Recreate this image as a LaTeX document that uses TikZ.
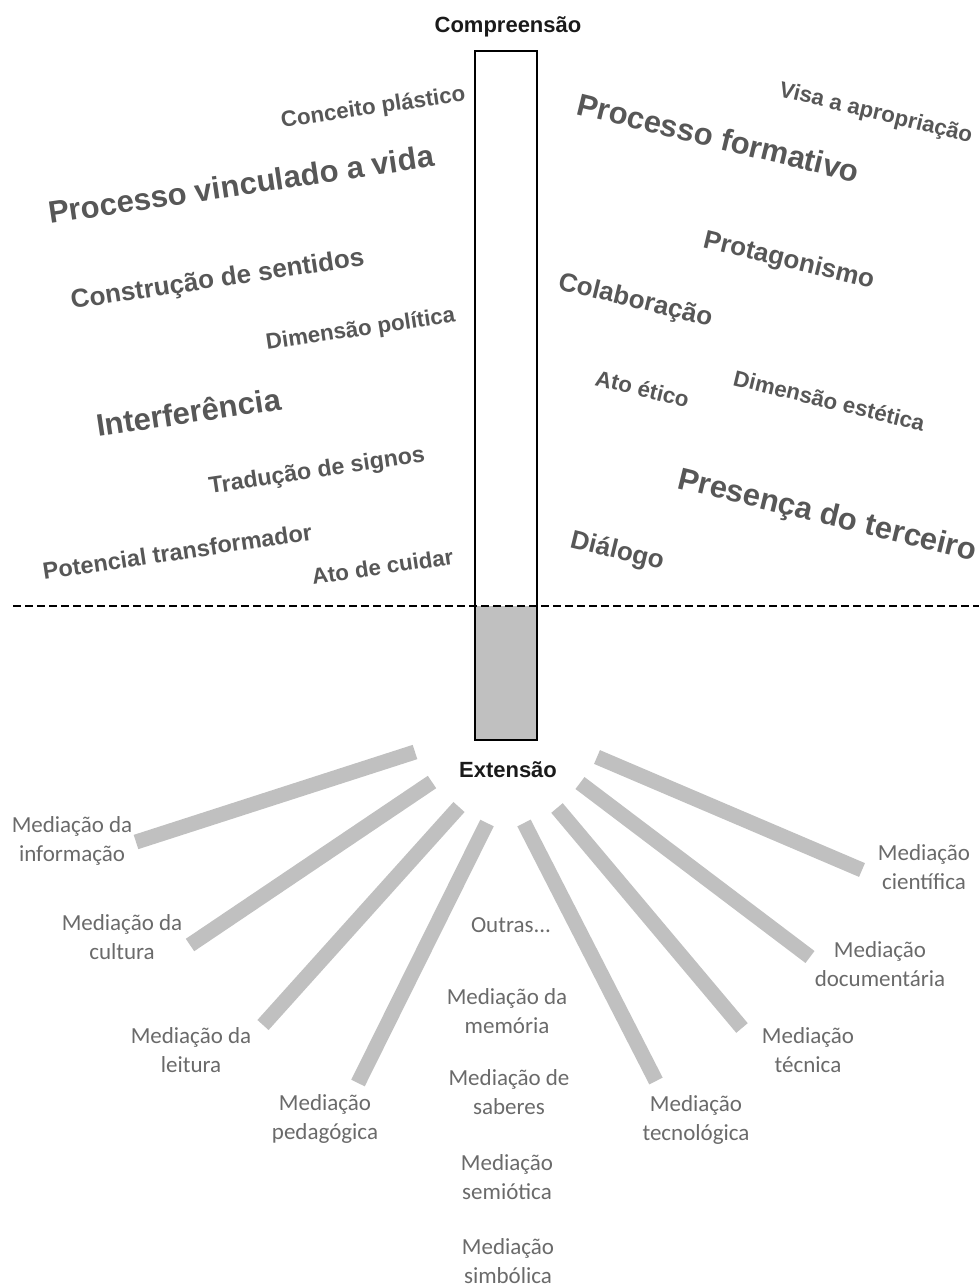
\documentclass[tikz,border=0pt]{standalone}
\usepackage{fontspec}
\setmainfont{Liberation Sans}
\newfontfamily\labelfont{Carlito}
\definecolor{wordgray}{HTML}{575757}
\definecolor{labelgray}{HTML}{6A6A6A}
\definecolor{bargray}{HTML}{C0C0C0}
\definecolor{titleink}{HTML}{1A1A1A}
\begin{document}
\begin{tikzpicture}[x=1pt,y=-1pt,
  word/.style={text=wordgray, inner sep=0pt, anchor=base west},
  bigw/.style={word, font=\bfseries\fontsize{31}{36}\selectfont},
  midw/.style={word, font=\bfseries\fontsize{26}{30}\selectfont},
  smallw/.style={word, font=\bfseries\fontsize{22.3}{26}\selectfont},
  leftw/.style={rotate=8.5},
  rightw/.style={rotate=-13.7},
  title/.style={text=titleink, inner sep=0pt, font=\bfseries\fontsize{22}{26}\selectfont},
  medlabel/.style={text=labelgray, inner sep=0pt, align=center,
    font=\labelfont\fontsize{23}{28.5}\selectfont},
  bar/.style={draw=bargray, line width=15pt, line cap=butt}]
\useasboundingbox (0,0) rectangle (979,1286);

% column with its lower, shaded part
\fill[bargray] (475,606) rectangle (537,740);
\draw[line width=1.5pt, black] (475,51) rectangle (537,740);
\draw[line width=1.3pt, dash pattern=on 8pt off 4pt] (13,606) -- (979,606);

\node[title] (comp) at (508,27) {Compreensão};
\node[title] (ext) at (508,770) {Extensão};

% words on the left of the column
\node[smallw, leftw] (w1) at (282,128) {Conceito plástico};
\node[bigw, leftw] (w2) at (50,224) {Processo vinculado a vida};
\node[midw, leftw] (w3) at (72,309) {Construção de sentidos};
\node[smallw, leftw] (w4) at (267,350) {Dimensão política};
\node[bigw, leftw] (w5) at (98,437) {Interferência};
\node[smallw, leftw, font=\bfseries\fontsize{23.2}{27}\selectfont] (w6) at (210,494) {Tradução de signos};
\node[smallw, leftw, font=\bfseries\fontsize{23.5}{27}\selectfont] (w7) at (44,580) {Potencial transformador};
\node[smallw, leftw] (w8) at (313,585) {Ato de cuidar};

% words on the right of the column
\node[smallw, rightw] (r1) at (778,96) {Visa a apropriação};
\node[bigw, rightw] (r2) at (575,114) {Processo formativo};
\node[midw, rightw] (r3) at (702,247) {Protagonismo};
\node[midw, rightw] (r4) at (557,289) {Colaboração};
\node[smallw, rightw] (r5) at (594,385) {Ato ético};
\node[smallw, rightw] (r6) at (732,385) {Dimensão estética};
\node[bigw, rightw] (r7) at (676,488) {Presença do terceiro};
\node[midw, rightw] (r8) at (569,547) {Diálogo};

% ends of the spokes below the column
\coordinate (s1a) at (415,752);  \coordinate (s1b) at (136,842);
\coordinate (s2a) at (432,782);  \coordinate (s2b) at (190,945);
\coordinate (s3a) at (459,807);  \coordinate (s3b) at (263,1025);
\coordinate (s4a) at (487,823);  \coordinate (s4b) at (358,1083);
\coordinate (s5a) at (524,823);  \coordinate (s5b) at (656,1081);
\coordinate (s6a) at (557,808);  \coordinate (s6b) at (742,1028);
\coordinate (s7a) at (580,783);  \coordinate (s7b) at (810,957);
\coordinate (s8a) at (597,757);  \coordinate (s8b) at (862,870);
\foreach \i in {1,...,8} \draw[bar] (s\i a) -- (s\i b);

% kinds of mediation
\node[medlabel] (m1) at (72,841) {Mediação da\\informação};
\node[medlabel] (m2) at (122,937) {Mediação da\\cultura};
\node[medlabel] (m3) at (191,1050) {Mediação da\\leitura};
\node[medlabel] (m4) at (325,1119) {Mediação\\pedagógica};
\node[medlabel] (m5) at (696,1120) {Mediação\\tecnológica};
\node[medlabel] (m6) at (808,1050) {Mediação\\técnica};
\node[medlabel] (m7) at (880,964) {Mediação\\documentária};
\node[medlabel] (m8) at (924,867) {Mediação\\científica};
\node[medlabel] (o1) at (511,925) {Outras...};
\node[medlabel] (o2) at (507,1011) {Mediação da\\memória};
\node[medlabel] (o3) at (509,1092) {Mediação de\\saberes};
\node[medlabel] (o4) at (507,1177) {Mediação\\semiótica};
\node[medlabel] (o5) at (508,1261) {Mediação\\simbólica};
\end{tikzpicture}
\end{document}
